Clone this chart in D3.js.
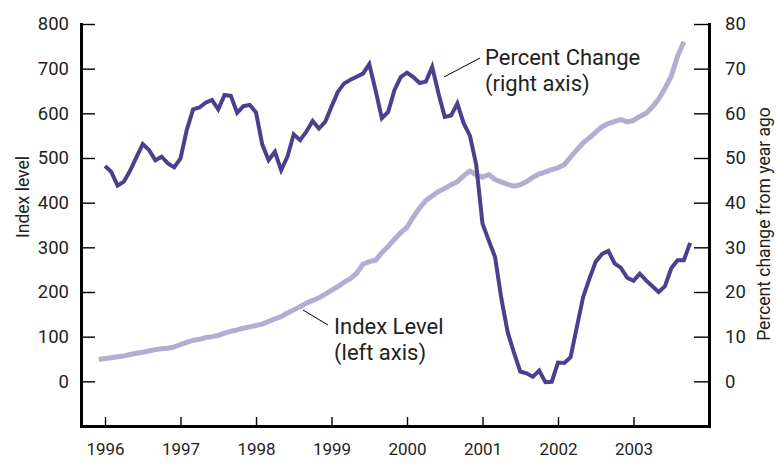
<!DOCTYPE html>
<html>
<head>
<meta charset="utf-8">
<script src="https://cdn.jsdelivr.net/npm/d3@7"></script>
<style>
  html, body { margin: 0; padding: 0; background: #ffffff; }
  svg { display: block; }
  text { font-family: Roboto, "Liberation Sans", Arial, sans-serif; fill: #231f20; }
</style>
</head>
<body>
<svg id="chart" width="776" height="463"></svg>
<script>
// ---- Data ----
// Percent change from year ago (right axis), monthly, starting Jan 1996
const pctStart = { year: 1996, month: 0 };
const pctValues = [
  48.2, 46.9, 43.8, 44.7, 47.2, 50.2, 53.1, 51.8, 49.5, 50.3, 48.8, 47.9,
  49.9, 56.3, 60.9, 61.3, 62.4, 63.0, 60.9, 64.1, 63.9, 60.1, 61.6, 61.9,
  60.2, 53.0, 49.5, 51.4, 47.3, 50.3, 55.3, 54.0, 55.9, 58.3, 56.6, 58.1,
  61.5, 64.8, 66.7, 67.5, 68.2, 68.9, 71.0, 65.2, 58.9, 60.3, 65.2, 68.1,
  69.1, 68.1, 66.8, 67.1, 70.4, 64.5, 59.2, 59.5, 62.2, 57.8, 55.0, 48.5,
  35.3, 31.5, 27.8, 18.5, 11.0, 6.4, 2.2, 1.8, 1.0, 2.4, -0.2, -0.1,
  4.2, 4.1, 5.4, 12.2, 18.9, 23.0, 26.8, 28.5, 29.2, 26.4, 25.4, 23.2,
  22.5, 24.1, 22.6, 21.3, 20.0, 21.3, 25.3, 27.1, 27.1, 31.0
];
// Index level (left axis), monthly, starting Dec 1995
const indexStart = { year: 1995, month: 11 };
const indexValues = [
  49, 51, 53, 55, 57, 60, 63, 65, 68, 71, 73, 74, 77,
  82, 87, 92, 94, 98, 100, 103, 108, 112, 115, 119, 122,
  125, 128, 134, 140, 145, 153, 160, 167, 175, 181, 187, 195,
  204, 212, 222, 230, 242, 262, 268, 271, 288, 302, 318, 333,
  345, 368, 388, 405, 415, 425, 432, 440, 447, 460, 471, 462,
  457, 463, 452, 446, 441, 437, 440, 447, 457, 464, 469, 474,
  478, 485, 502, 518, 534, 545, 558, 570, 577, 582, 586, 581,
  584, 593, 600, 614, 632, 656, 683, 728, 760
];
const yearTicks = [1996, 1997, 1998, 1999, 2000, 2001, 2002, 2003];
const leftTicks = [0, 100, 200, 300, 400, 500, 600, 700, 800];
const rightTicks = [0, 10, 20, 30, 40, 50, 60, 70, 80];
const leftTitle = "Index level";
const rightTitle = "Percent change from year ago";
const pctLabel = ["Percent Change", "(right axis)"];
const indexLabel = ["Index Level", "(left axis)"];

// ---- Layout ----
const svg = d3.select("#chart");
const plot = { left: 81, right: 709, top: 24, bottom: 426 };
const darkColor = "#4b3f8e";
const lightColor = "#b5acd4";

const toSeries = (start, vals) => vals.map((v, i) => ({
  t: start.year + (start.month + i) / 12,
  v
}));
const pctData = toSeries(pctStart, pctValues);
const indexData = toSeries(indexStart, indexValues);

const x = d3.scaleLinear().domain([1995.682, 2004]).range([plot.left, plot.right]);
const yL = d3.scaleLinear().domain([-100, 800]).range([plot.bottom, plot.top]);
const yR = d3.scaleLinear().domain([-10, 80]).range([plot.bottom, plot.top]);

// ---- Lines ----
svg.append("path")
  .datum(indexData)
  .attr("fill", "none")
  .attr("stroke", lightColor)
  .attr("stroke-width", 5)
  .attr("stroke-linejoin", "round")
  .attr("d", d3.line().x(d => x(d.t)).y(d => yL(d.v)));

svg.append("path")
  .datum(pctData)
  .attr("fill", "none")
  .attr("stroke", darkColor)
  .attr("stroke-width", 4)
  .attr("stroke-linejoin", "miter")
  .attr("d", d3.line().x(d => x(d.t)).y(d => yR(d.v)));

// ---- Axes ----
function styleAxis(g, fontSize) {
  g.select(".domain").attr("stroke", "#000").attr("stroke-width", 3).attr("stroke-linecap", "square");
  g.selectAll(".tick line").attr("stroke", "#000").attr("stroke-width", 1.4);
  g.selectAll(".tick text").style("font-size", fontSize + "px").attr("fill", "#231f20");
}

const gL = svg.append("g")
  .attr("transform", `translate(${plot.left},0)`)
  .call(d3.axisLeft(yL).tickValues(leftTicks).tickSizeInner(-14).tickSizeOuter(0).tickPadding(12));
styleAxis(gL, 18.5);

const gR = svg.append("g")
  .attr("transform", `translate(${plot.right},0)`)
  .call(d3.axisRight(yR).tickValues(rightTicks).tickSizeInner(-15).tickSizeOuter(0).tickPadding(16));
styleAxis(gR, 18.5);

const gB = svg.append("g")
  .attr("transform", `translate(0,${plot.bottom})`)
  .call(d3.axisBottom(x).tickValues(yearTicks).tickFormat(d3.format("d")).tickSizeInner(-9).tickSizeOuter(0).tickPadding(17));
styleAxis(gB, 17);

// ---- Axis titles ----
svg.append("text")
  .attr("transform", `translate(29,197) rotate(-90)`)
  .attr("text-anchor", "middle")
  .style("font-size", "17.5px")
  .text(leftTitle);

svg.append("text")
  .attr("transform", `translate(770,224) rotate(-90)`)
  .attr("text-anchor", "middle")
  .style("font-size", "17.5px")
  .text(rightTitle);

// ---- Annotations ----
function annotate(lines, tx, ty, lineGap, leader) {
  const t = svg.append("text").style("font-size", "22px");
  lines.forEach((s, i) => {
    t.append("tspan").attr("x", tx).attr("y", ty + i * lineGap).text(s);
  });
  svg.append("line")
    .attr("x1", leader[0]).attr("y1", leader[1])
    .attr("x2", leader[2]).attr("y2", leader[3])
    .attr("stroke", "#000").attr("stroke-width", 1);
}
annotate(pctLabel, 485, 65, 26, [444, 77, 480, 58]);
annotate(indexLabel, 334, 334, 26, [303, 310, 328, 325]);
</script>
</body>
</html>
